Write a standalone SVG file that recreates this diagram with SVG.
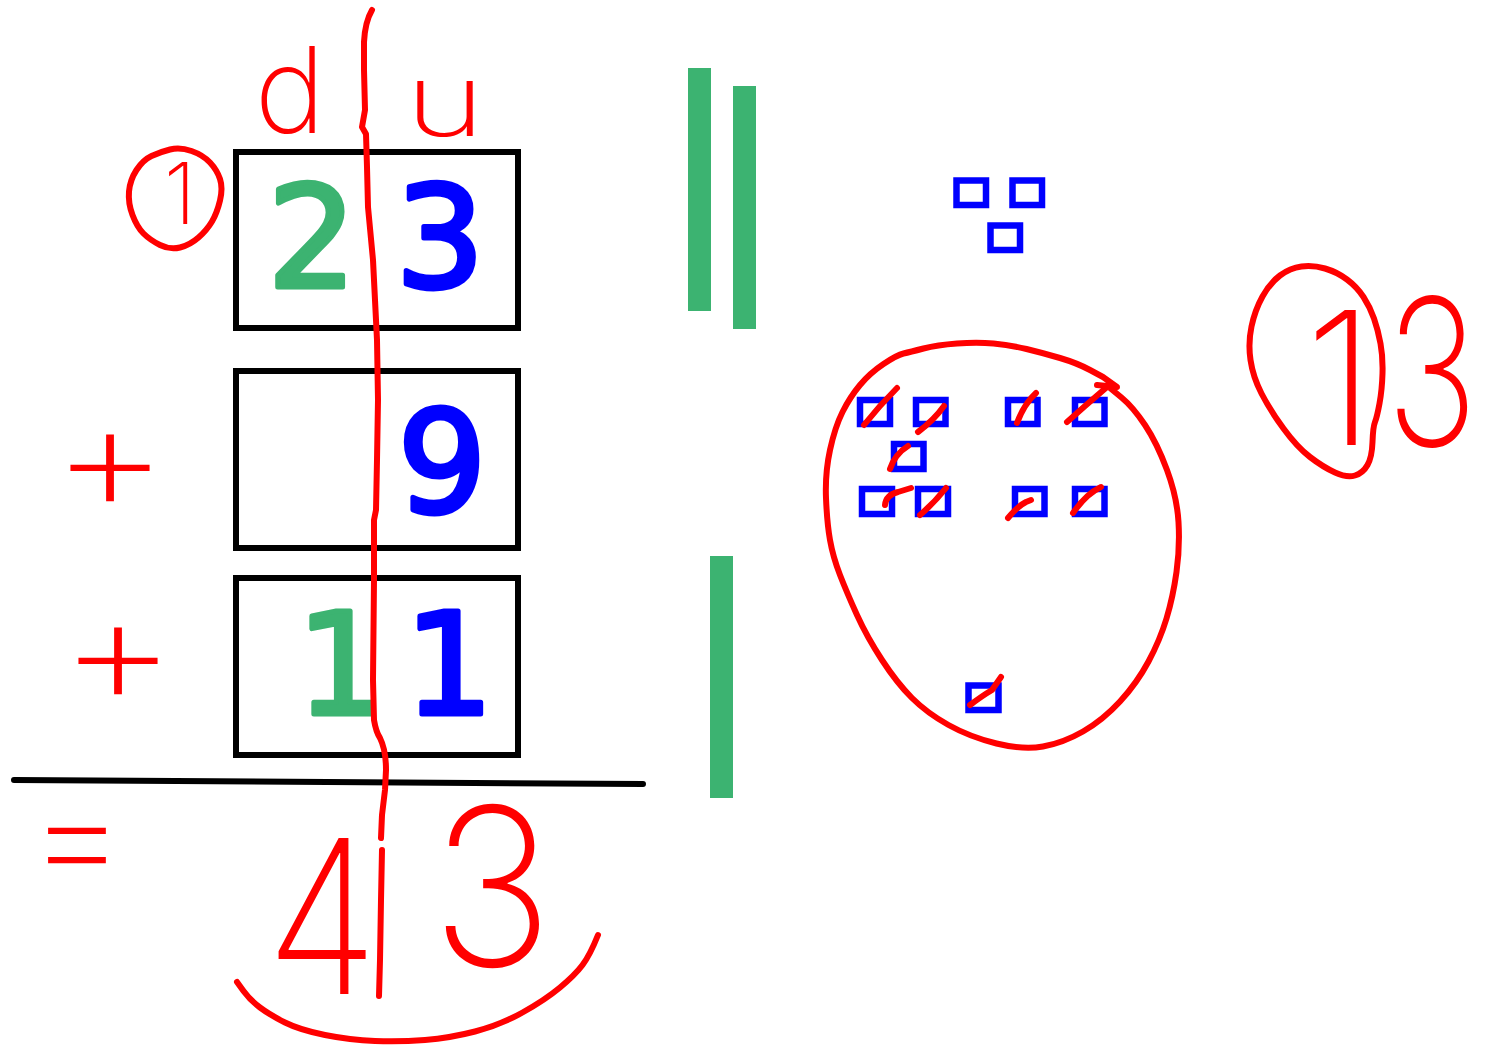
<svg xmlns="http://www.w3.org/2000/svg" width="1488" height="1047" viewBox="0 0 1488 1047">
<style>
.box{fill:none;stroke:#000;stroke-width:6}
.typed{font-family:"DejaVu Sans",sans-serif;font-weight:normal;font-size:140px;text-anchor:middle;stroke-width:5;stroke-linejoin:round;stroke-linecap:round}
.g{fill:#3CB371;stroke:#3CB371}
.b{fill:#0000FF;stroke:#0000FF}
.hand{font-family:Inter,"Open Sans",sans-serif;font-weight:200;fill:#FF0000;text-anchor:middle}
.ink{fill:none;stroke:#FF0000;stroke-width:6;stroke-linecap:round;stroke-linejoin:round}
.sq{fill:none;stroke:#0000FF;stroke-width:6.5}
.bar{fill:#3CB371}
</style>
<rect width="1488" height="1047" fill="#fff"/>

<g id="column-labels">
<text class="hand" x="290" y="133" font-size="120">d</text>
<text class="hand" x="445" y="136" font-size="100" textLength="80" lengthAdjust="spacingAndGlyphs">u</text>
</g>

<g id="carry-1">
<path class="ink" d="M170,149.5 Q180,147 191.5,151 Q203,155 210,162.5 Q217,170 220,179 Q223,188 220,200.5 Q217,213 212,221.5 Q207,230 198.5,237.5 Q190,245 180,247.5 Q170,250 160,245 Q150,240 143.5,233.5 Q137,227 132.5,215 Q128,203 129,191.5 Q130,180 136.5,170 Q143,160 151.5,156 Q160,152 170,149.5 Z"/>
<text class="hand" x="180" y="224" font-size="85">1</text>
</g>

<g id="box-23">
<rect class="box" x="236" y="152" width="282" height="176"/>
<text class="typed g" x="312" y="287">2</text>
<text class="typed b" x="440" y="287">3</text>
</g>

<g id="box-9">
<rect class="box" x="236" y="371" width="282" height="177"/>
<text class="typed b" x="442" y="512">9</text>
</g>

<g id="box-11">
<rect class="box" x="236" y="578" width="282" height="177"/>
<text class="typed g" x="341" y="714">1</text>
<text class="typed b" x="449" y="714">1</text>
</g>

<g id="signs">
<text class="hand" x="110" y="512" font-size="155" textLength="118" lengthAdjust="spacingAndGlyphs">+</text>
<text class="hand" x="118" y="705" font-size="155" textLength="118" lengthAdjust="spacingAndGlyphs">+</text>
<text class="hand" x="77" y="888" font-size="150" textLength="100" lengthAdjust="spacingAndGlyphs">=</text>
</g>

<g id="result-43">
<text class="hand" x="322" y="994" font-size="215" textLength="112" lengthAdjust="spacingAndGlyphs">4</text>
<text class="hand" x="492" y="966" font-size="220" textLength="122" lengthAdjust="spacingAndGlyphs">3</text>
<path class="ink" d="M237,982 L243.5,991 Q250,1000 260,1007.5 Q270,1015 285,1022.5 Q300,1030 325,1035 Q350,1040 375,1041 Q400,1042 425,1040 Q450,1038 475,1031.5 Q500,1025 522.5,1012.5 Q545,1000 560,987.5 Q575,975 582.5,965 Q590,955 598,935"/>
</g>

<g id="rules">
<line x1="14" y1="780" x2="643" y2="784" stroke="#000" stroke-width="6" stroke-linecap="round"/>
<path class="ink" d="M372,10 Q365,22 364,42 L364,70 L365,110 L362,127 L366,134 L367,167 L368,207 L373,260 L375,300 L377,340 L378,400 L377,460 L376,510 L374,520 L374,580 L373,680 L374,720 Q376,732 380,738 Q386,750 386,770 L385,790 L382,815 L381,838 M382,850 L381,900 L380,960 L379,996"/>
</g>

<g id="tens-bars">
<rect class="bar" x="688" y="68" width="23" height="243"/>
<rect class="bar" x="733" y="86" width="23" height="243"/>
<rect class="bar" x="710" y="556" width="23" height="242"/>
</g>

<g id="units-top">
<rect class="sq" x="956.5" y="180.5" width="29.5" height="24.5"/>
<rect class="sq" x="1012.5" y="180.5" width="29.5" height="24.5"/>
<rect class="sq" x="990.5" y="225.5" width="29.5" height="24.5"/>
</g>

<g id="units-circle">
<rect class="sq" x="860" y="400" width="30" height="24"/>
<rect class="sq" x="916" y="400" width="29.5" height="24"/>
<rect class="sq" x="1008" y="400" width="29.5" height="24"/>
<rect class="sq" x="1075" y="400" width="29.5" height="24"/>
<rect class="sq" x="894" y="444" width="29.5" height="25"/>
<rect class="sq" x="862" y="489" width="30" height="25"/>
<rect class="sq" x="918" y="489" width="30" height="25"/>
<rect class="sq" x="1015" y="489" width="29.5" height="25"/>
<rect class="sq" x="1075" y="489" width="29.5" height="25"/>
<rect class="sq" x="968.5" y="685.5" width="30" height="24.5"/>
<path class="ink" d="M864,425 Q880,405 897,388"/>
<path class="ink" d="M918,432 Q934,420 944,406"/>
<path class="ink" d="M1017,423 Q1024,404 1036,393"/>
<path class="ink" d="M1067,422 L1085,406 L1107,387"/>
<path class="ink" d="M890,469 Q895,454 908,446"/>
<path class="ink" d="M885,505 Q886,495 898,492 L911,488"/>
<path class="ink" d="M920,515 Q934,503 946,488"/>
<path class="ink" d="M1008,518 Q1018,506 1026,502 L1031,500"/>
<path class="ink" d="M1073,513 Q1086,494 1101,487"/>
<path class="ink" d="M970,705 Q982,696 992,690 L1001,677"/>
<path class="ink" d="M1097,385 L1117,387 L1103,377 L1090,370 Q1077,363 1060,358 Q1043,353 1026.5,349 Q1010,345 993.5,343.5 Q977,342 957,343.5 Q937,345 923.5,348.5 Q910,352 903.5,353.5 Q897,355 883.5,364 Q870,373 860,385 Q850,397 842.5,412 Q835,427 830,450 Q825,473 826,498 Q827,523 830,540 Q833,557 840,575 Q847,593 857,615 Q867,637 882,660 Q897,683 912,698 Q927,713 948.5,725 Q970,737 996.5,743.5 Q1023,750 1043,746.5 Q1063,743 1083,731.5 Q1103,720 1120,701.5 Q1137,683 1148.5,661.5 Q1160,640 1166.5,618.5 Q1173,597 1176.5,572 Q1180,547 1178.5,522 Q1177,497 1167,470 Q1157,443 1145,425 Q1133,407 1121.5,397.5 L1110,388"/>
</g>

<g id="answer-13">
<path class="ink" d="M1301.5,266.5 Q1313,265 1325,268.5 Q1337,272 1347,279.5 Q1357,287 1363.5,297 Q1370,307 1374,318.5 Q1378,330 1380.5,343.5 Q1383,357 1382.5,373.5 Q1382,390 1379.5,403.5 Q1377,417 1375,422 Q1373,427 1372.5,442 Q1372,457 1367.5,465 Q1363,473 1355,475.5 Q1347,478 1335,472.5 Q1323,467 1310,457 Q1297,447 1283.5,428.5 Q1270,410 1261.5,393.5 Q1253,377 1250.5,360 Q1248,343 1251.5,326.5 Q1255,310 1262.5,296.5 Q1270,283 1280,275.5 Q1290,268 1301.5,266.5 Z"/>
<text class="hand" x="1340" y="445" font-size="185">1</text>
<text class="hand" font-size="205" transform="translate(1432,446) scale(0.75,1)" x="0" y="0">3</text>
</g>
</svg>
